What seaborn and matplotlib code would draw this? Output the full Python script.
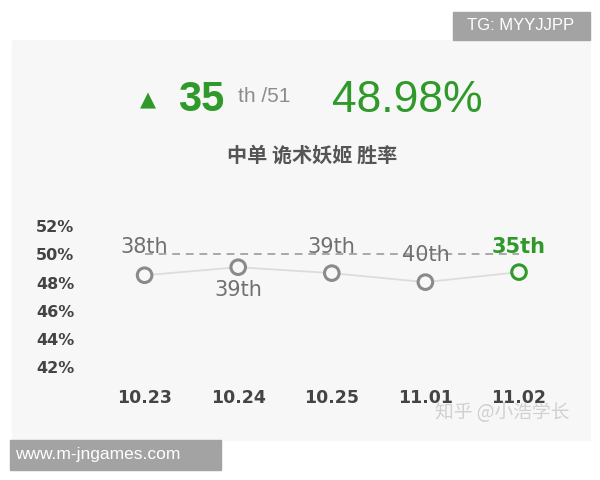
import pandas as pd
import seaborn as sns
from matplotlib import pyplot as plt
from matplotlib.patches import Rectangle

# data
versions = ["10.23", "10.24", "10.25", "11.01", "11.02"]
win_rate = [48.52, 49.09, 48.67, 48.03, 48.74]
ranks = ["38th", "39th", "39th", "40th", "35th"]
rank_above = [True, False, True, True, True]
y_ticks = [42, 44, 46, 48, 50, 52]
ref_line = 50

GREEN = "#2f9a2a"
GRAY = "#8a8a8a"
DARK = "#444444"

sns.set_theme(style="white")
plt.rcParams['font.family'] = ['Liberation Sans', 'Noto Sans CJK SC', 'DejaVu Sans']

df = pd.DataFrame({"version": versions, "rate": win_rate})

fig = plt.figure(figsize=(6, 4.8), dpi=100)
fig.patch.set_facecolor("white")
# light panel behind the card
fig.patches.append(Rectangle((12 / 600, 1 - 440 / 480), 578 / 600, 400 / 480,
                             transform=fig.transFigure, color="#f7f7f7", zorder=-5))

ax = fig.add_axes([0.163, 0.206, 0.78, 0.352])
ax.set_facecolor("none")
x = list(range(len(versions)))
sns.lineplot(x=x, y=win_rate, ax=ax, color="#dcdcdc", linewidth=1.3, zorder=2)
ax.hlines(ref_line, x[0], x[-1], color="#a8a8a8", linestyle=(0, (4, 3)),
          linewidth=1.4, zorder=1)
colors = [GRAY] * (len(x) - 1) + [GREEN]
sns.scatterplot(x=x, y=win_rate, ax=ax, s=110, facecolor="#f7f7f7",
                edgecolor=colors, linewidth=2.2, zorder=3)

for i, (r, up) in enumerate(zip(ranks, rank_above)):
    last = i == len(ranks) - 1
    if up:
        ty = ref_line + 0.55 if i != 3 else ref_line - 0.05
    else:
        ty = win_rate[i] - 1.6
    ax.text(i, ty, r, ha="center", va="center", fontsize=15,
            family=["DejaVu Sans"], color=GREEN if last else "#707070",
            fontweight="bold" if last else "normal", zorder=4)

ax.set_xlim(-0.5, 4.5)
ax.set_ylim(41, 53)
ax.set_xticks(x)
ax.set_xticklabels(versions, fontsize=12.5, fontweight="bold", color=DARK,
                   family=["DejaVu Sans"])
ax.set_yticks(y_ticks)
ax.set_yticklabels([f"{t}%" for t in y_ticks], fontsize=11.5, fontweight="bold",
                   color=DARK, family=["DejaVu Sans"])
ax.tick_params(axis="x", length=0, pad=6)
ax.tick_params(axis="y", length=0, pad=17)
sns.despine(ax=ax, left=True, bottom=True)

# header
fig.text(148 / 600, 1 - 100 / 480, "▲", color=GREEN, fontsize=15, ha="center",
         va="center", family=["DejaVu Sans"])
fig.text(178 / 600, 1 - 100 / 480, "35", color=GREEN, fontsize=30,
         fontweight="bold", ha="left", va="center")
fig.text(238 / 600, 1 - 97 / 480, "th /51", color="#8c8c8c", fontsize=15,
         ha="left", va="center")
fig.text(407 / 600, 1 - 100 / 480, "48.98%", color=GREEN, fontsize=32,
         ha="center", va="center")
fig.text(312 / 600, 1 - 155 / 480, "中单 诡术妖姬 胜率", color="#555555",
         fontsize=14.5, fontweight="bold", ha="center", va="center",
         family=["Noto Sans CJK SC"])
fig.text(502 / 600, 1 - 413 / 480, "知乎 @小浩学长", color="#d0d0d0",
         fontsize=13.5, ha="center", va="center", family=["Noto Sans CJK SC"])

# watermark boxes
fig.patches.append(Rectangle((453 / 600, 1 - 40 / 480), 137 / 600, 28 / 480,
                             transform=fig.transFigure, color="#a3a3a3", zorder=5))
fig.text(521 / 600, 1 - 26 / 480, "TG: MYYJJPP", color="white", fontsize=12,
         ha="center", va="center", zorder=6)
fig.patches.append(Rectangle((10 / 600, 1 - 470 / 480), 211 / 600, 30 / 480,
                             transform=fig.transFigure, color="#a3a3a3", zorder=5))
fig.text(15 / 600, 1 - 455 / 480, "www.m-jngames.com", color="white", fontsize=12.5,
         ha="left", va="center", zorder=6)

fig.savefig("out.png", dpi=100)
